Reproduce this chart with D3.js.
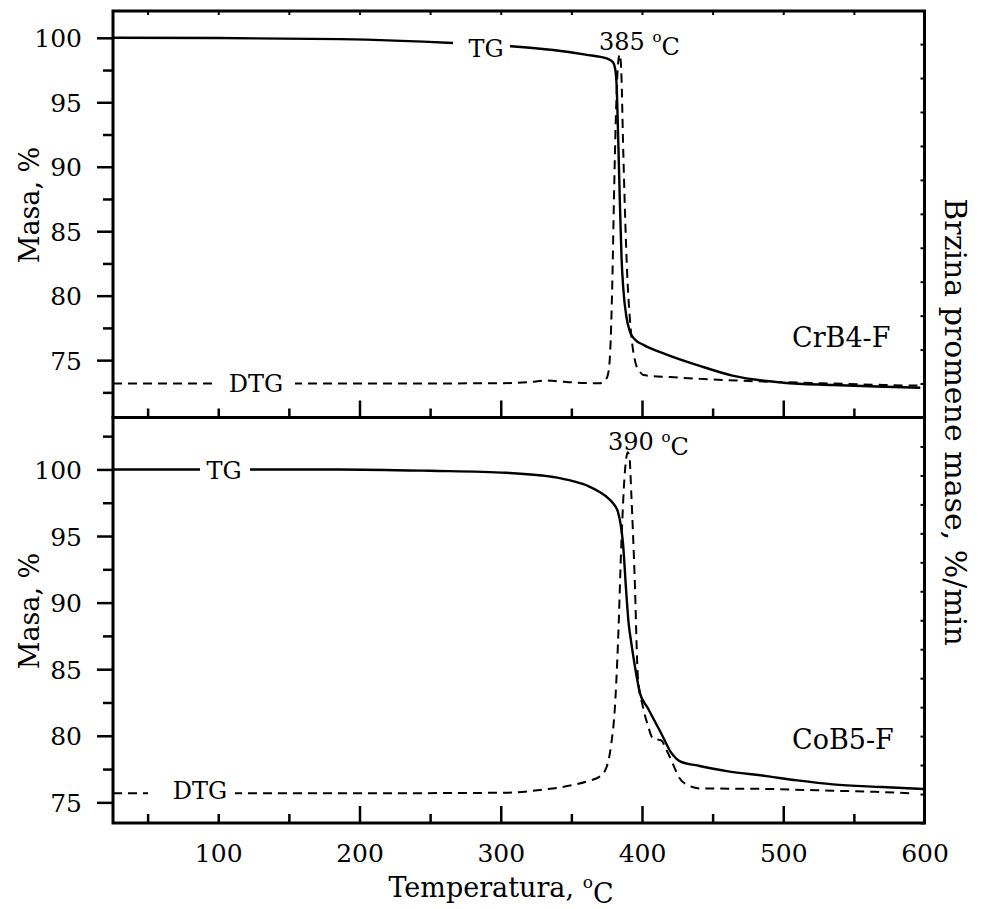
<!DOCTYPE html>
<html><head><meta charset="utf-8">
<script src="https://cdn.jsdelivr.net/npm/d3@7"></script>
<style>
body{margin:0;background:#fff;}
svg{display:block;}
text{font-family:"DejaVu Serif",serif;fill:#000;}
</style></head>
<body><svg id="chart" width="981" height="909"></svg>
<script>
// ---- data (temperature °C, value) ----
// Top panel: CrB4-F
const tgTop = [[25.5,100.0],[100,99.98],[186,99.9],[266,99.6],[306,99.35],[337,99.05],[360,98.7],[375,98.4],[379.5,98.1],[381,97.6],[382,96.4],[383.2,92],[384.3,87.4],[385.5,83],[386.8,80.5],[388.9,78.4],[391.5,77.2],[395,76.6],[400.7,76.2],[417,75.45],[441,74.55],[464,73.8],[500,73.25],[535,73.07],[566,72.95],[597,72.86]];
const dtgTop = [[25.5,0],[100,0],[200,0],[300,0.02],[320,0.08],[332,0.18],[345,0.1],[360,0.03],[370,0.02],[374.5,0.25],[376.5,0.8],[377.8,2.5],[379,6],[380.3,11.5],[381.8,16.5],[383,18.8],[384.3,19.4],[385.5,18],[386.5,14.5],[388,10],[389.5,6.5],[391,4.3],[393,2.4],[395.5,1.2],[398.5,0.7],[401,0.5],[420,0.38],[441,0.28],[470,0.17],[500,0.08],[535,0.0],[565,-0.07],[585,-0.11],[595,-0.12]];
// Bottom panel: CoB5-F
const tgBot = [[25.5,100],[100,100],[186,100],[250,99.9],[304,99.75],[339,99.4],[351,99.12],[362,98.75],[370,98.3],[376,97.85],[380,97.4],[383,96.8],[385,95.8],[386.5,94.5],[388.9,90.7],[390.5,88.5],[392.4,87],[395,85.2],[397,84.0],[398.5,83.2],[404,82.1],[409,81.1],[414,80.1],[420.7,78.73],[426.6,78.1],[440.8,77.73],[460,77.35],[488,76.97],[510,76.65],[535,76.35],[570,76.15],[599,76.0]];
const dtgBot = [[25.5,0.05],[100,0.05],[186,0.05],[304,0.09],[327.6,0.28],[351,0.62],[362,0.9],[370,1.2],[374.7,1.8],[378.3,3.5],[380.7,5.8],[383,10.4],[385.4,17.3],[387.7,22],[390,23.6],[391.2,23.2],[392.4,20.8],[394.8,15],[397.1,8.1],[400.7,6],[404,4.8],[407.7,3.85],[413.7,3.7],[417,3.1],[420.7,2.35],[424,1.6],[426.6,1.09],[432.5,0.62],[440.8,0.39],[488,0.35],[535,0.23],[565,0.15],[590,0.05]];

const xMajor = [200,300,400,500];
const xMinor = [50,100,150,250,350,450,550];
const xLabels = [100,200,300,400,500,600];
const yMajor = [75,80,85,90,95,100];
const yMinorTop = [72.5,77.5,82.5,87.5,92.5,97.5];
const yMinorBot = [77.5,82.5,87.5,92.5,97.5,102.5];
const rTicksTop = d3.range(-2,21,2);
const rTicksBot = d3.range(-2,27,2);
const peaks = ["385", "390"];
const samples = ["CrB4-F","CoB5-F"];

const svg = d3.select("#chart");
const X0 = 113, X1 = 924.5;
const x = d3.scaleLinear().domain([25.5,600]).range([X0,X1]);

const panels = [
  {top:11, bottom:417.5, y:d3.scaleLinear().domain([70.55,102.08]).range([417.5,11]),
   r:d3.scaleLinear().domain([-2,21.95]).range([417.5,11]), tg:tgTop, dtg:dtgTop, yMinor:yMinorTop, rTicks:rTicksTop,
   tgLab:{x:486,y:57,gap:[453,30,57,32]}, dtgLab:{x:256,y:392,gap:[213,370,82,28]},
   peak:{x:599,y:50,t:peaks[0]}, name:{x:792,y:347,t:samples[0]}, labels:false, titleY:205},
  {top:417.5, bottom:823, y:d3.scaleLinear().domain([73.45,103.9]).range([823,417.5]),
   r:d3.scaleLinear().domain([-2,26]).range([823,417.5]), tg:tgBot, dtg:dtgBot, yMinor:yMinorBot, rTicks:rTicksBot,
   tgLab:{x:224,y:479,gap:[200,458,50,26]}, dtgLab:{x:200,y:799,gap:[148,780,87,26]},
   peak:{x:608,y:450,t:peaks[1]}, name:{x:792,y:749,t:samples[1]}, labels:true, titleY:611}
];

panels.forEach(p => {
  const g = svg.append("g");
  const lineTG = d3.line().x(d=>x(d[0])).y(d=>p.y(d[1])).curve(d3.curveMonotoneX);
  const lineDTG = d3.line().x(d=>x(d[0])).y(d=>p.r(d[1])).curve(d3.curveMonotoneX);
  g.append("path").attr("d", lineDTG(p.dtg)).attr("fill","none").attr("stroke","#000")
    .attr("stroke-width",2).attr("stroke-dasharray","9,6");
  g.append("path").attr("d", lineTG(p.tg)).attr("fill","none").attr("stroke","#000")
    .attr("stroke-width",2.4);

  [p.tgLab, p.dtgLab].forEach(l => {
    g.append("rect").attr("x",l.gap[0]).attr("y",l.gap[1]).attr("width",l.gap[2]).attr("height",l.gap[3]).attr("fill","#fff");
  });
  g.append("text").attr("x",p.tgLab.x).attr("y",p.tgLab.y).attr("text-anchor","middle").style("font-size","24px").text("TG");
  g.append("text").attr("x",p.dtgLab.x).attr("y",p.dtgLab.y).attr("text-anchor","middle").style("font-size","24px").text("DTG");
  const pk = g.append("text").attr("x",p.peak.x).attr("y",p.peak.y).style("font-size","24px");
  pk.append("tspan").text(p.peak.t + " ");
  pk.append("tspan").attr("dy","-0.55em").style("font-size","15px").text("o");
  pk.append("tspan").attr("dy","0.55em").text("C");
  g.append("text").attr("x",p.name.x).attr("y",p.name.y).style("font-size","27px").text(p.name.t);

  const la = g.append("g").attr("transform",`translate(${X0},0)`)
    .call(d3.axisLeft(p.y).tickValues(yMajor).tickSize(16).tickPadding(15).tickFormat(d3.format("d")));
  la.select(".domain").remove();
  la.selectAll("line").attr("stroke-width",2.5);
  la.selectAll("text").style("font-size","25px").style("font-family","DejaVu Serif").attr("dy","0.36em");
  const lm = g.append("g").attr("transform",`translate(${X0},0)`)
    .call(d3.axisLeft(p.y).tickValues(p.yMinor).tickSize(10).tickFormat(""));
  lm.select(".domain").remove();
  lm.selectAll("line").attr("stroke-width",2.5);

  const ba = g.append("g").attr("transform",`translate(0,${p.bottom})`)
    .call(d3.axisBottom(x).tickValues(xMajor).tickSize(-17).tickFormat(""));
  ba.select(".domain").remove();
  ba.selectAll("line").attr("stroke-width",2.5);
  const bm = g.append("g").attr("transform",`translate(0,${p.bottom})`)
    .call(d3.axisBottom(x).tickValues(xMinor).tickSize(-9).tickFormat(""));
  bm.select(".domain").remove();
  bm.selectAll("line").attr("stroke-width",2.5);
  if (p.labels) {
    const bl = g.append("g").attr("transform",`translate(0,${p.bottom})`)
      .call(d3.axisBottom(x).tickValues(xLabels).tickSize(0).tickPadding(21).tickFormat(d3.format("d")));
    bl.select(".domain").remove();
    bl.selectAll("text").style("font-size","25px").style("font-family","DejaVu Serif");
  }
  if (!p.labels) {
    const ta = g.append("g").attr("transform",`translate(0,${p.top})`)
      .call(d3.axisTop(x).tickValues(d3.range(50,601,50)).tickSize(-4).tickFormat(""));
    ta.select(".domain").remove();
    ta.selectAll("line").attr("stroke-width",2);
  }
  const ra = g.append("g").attr("transform",`translate(${X1},0)`)
    .call(d3.axisRight(p.r).tickValues(p.rTicks).tickSize(-4).tickFormat(""));
  ra.select(".domain").remove();
  ra.selectAll("line").attr("stroke-width",2);

  g.append("rect").attr("x",X0).attr("y",p.top).attr("width",X1-X0).attr("height",p.bottom-p.top)
    .attr("fill","none").attr("stroke","#000").attr("stroke-width",3);

  g.append("text").attr("transform",`translate(39,${p.titleY}) rotate(-90)`).attr("text-anchor","middle")
    .style("font-size","27px").text("Masa, %");
});

const xt = svg.append("text").attr("x",501).attr("y",897).attr("text-anchor","middle").style("font-size","27px");
xt.append("tspan").text("Temperatura, ");
xt.append("tspan").attr("dy","-0.55em").style("font-size","17px").text("o");
xt.append("tspan").attr("dy","0.55em").text("C");

svg.append("text").attr("transform","translate(945,422) rotate(90)").attr("text-anchor","middle")
  .style("font-size","30px").text("Brzina promene mase, %/min");
</script></body></html>
